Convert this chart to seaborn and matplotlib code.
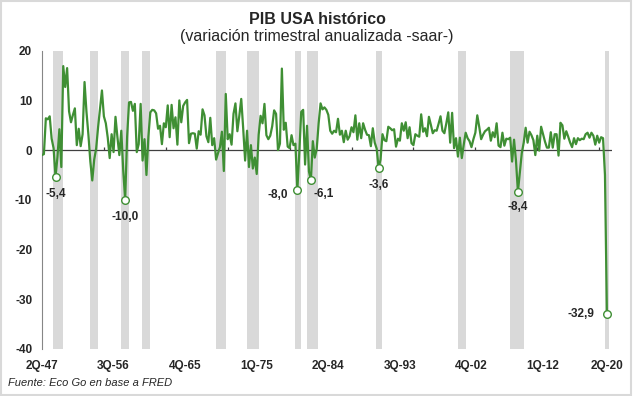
import pandas as pd
import seaborn as sns
import matplotlib.pyplot as plt
from matplotlib.patches import Rectangle

# Quarterly real GDP growth, SAAR (%), 2Q-47 .. 2Q-20
gdp_growth = [
    -1.0, -0.8, 6.4,            # 1947 (Q2-Q4)
    6.2, 6.8, 2.3, 0.4,         # 1948
    -5.4, -1.4, 4.2, -3.4,      # 1949
    16.9, 12.7, 16.5, 7.8,      # 1950
    5.6, 7.1, 8.4, 1.0,         # 1951
    4.3, 0.8, 3.2, 13.7,        # 1952
    7.7, 3.1, -2.3, -6.1,       # 1953
    -1.9, 0.3, 4.6, 8.2,        # 1954
    12.0, 6.8, 5.4, 2.5,        # 1955
    -1.6, 3.2, -0.4, 6.7,       # 1956
    2.6, -1.0, 3.9, -4.1,       # 1957
    -10.0, 2.6, 9.6, 9.7,       # 1958
    7.9, 9.3, -0.4, 1.2,        # 1959
    9.3, -2.1, 2.2, -5.0,       # 1960
    2.7, 7.6, 8.1, 8.0,         # 1961
    7.4, 4.3, 4.9, 1.2,         # 1962
    5.4, 4.6, 9.0, 2.6,         # 1963
    9.1, 4.4, 6.6, 1.1,         # 1964
    10.0, 5.6, 8.9, 9.6,        # 1965
    10.1, 1.4, 3.3, 3.4,        # 1966
    3.3, 0.3, 3.8, 3.1,         # 1967
    8.2, 7.0, 2.8, 1.6,         # 1968
    6.5, 1.0, 2.4, -1.9,        # 1969
    -0.6, 0.6, 3.7, -4.2,       # 1970
    11.3, 2.2, 3.2, 1.1,        # 1971
    7.3, 9.4, 3.8, 6.9,         # 1972
    10.3, 4.4, -2.1, 3.9,       # 1973
    -3.4, 1.0, -3.7, -1.5,      # 1974
    -4.8, 3.1, 6.9, 5.4,        # 1975
    9.3, 3.0, 2.2, 2.9,         # 1976
    4.8, 8.0, 7.3, 0.0,         # 1977
    1.3, 16.4, 4.1, 5.5,        # 1978
    0.7, 0.4, 3.0, 1.0,         # 1979
    1.3, -8.0, -0.5, 7.7,       # 1980
    8.1, -2.9, 4.9, -4.3,       # 1981
    -6.1, 1.8, -1.5, 0.2,       # 1982
    5.4, 9.4, 8.2, 8.6,         # 1983
    8.1, 7.1, 3.9, 3.3,         # 1984
    3.9, 3.6, 6.3, 3.1,         # 1985
    3.9, 1.6, 3.9, 2.1,         # 1986
    2.8, 4.6, 3.6, 7.0,         # 1987
    2.1, 5.4, 2.4, 5.4,         # 1988
    4.1, 3.1, 3.0, 0.8,         # 1989
    4.4, 1.5, 0.3, -3.6,        # 1990
    -1.9, 3.2, 2.0, 1.8,        # 1991
    4.7, 4.4, 4.0, 4.2,         # 1992
    0.7, 2.3, 1.9, 5.4,         # 1993
    3.9, 5.6, 2.4, 4.6,         # 1994
    1.4, 1.0, 3.2, 2.9,         # 1995
    2.7, 7.2, 3.7, 4.4,         # 1996
    2.8, 6.7, 5.1, 3.4,         # 1997
    4.0, 3.9, 5.3, 6.8,         # 1998
    3.9, 3.4, 5.4, 7.6,         # 1999
    1.5, 7.5, 0.4, 2.4,         # 2000
    -1.3, 2.5, -1.6, 1.1,       # 2001
    3.5, 2.4, 1.8, 0.6,         # 2002
    2.2, 3.5, 7.0, 4.7,         # 2003
    2.2, 3.1, 3.8, 4.1,         # 2004
    4.5, 1.9, 3.6, 2.6,         # 2005
    5.4, 0.9, 0.6, 3.5,         # 2006
    0.9, 2.3, 2.2, 2.5,         # 2007
    -2.3, 2.1, -2.1, -8.4,      # 2008
    -4.4, -0.6, 1.5, 4.5,       # 2009
    1.5, 3.7, 3.0, 2.0,         # 2010
    -1.0, 2.9, -0.1, 4.7,       # 2011
    3.2, 1.7, 0.5, 0.5,         # 2012
    3.6, 0.5, 3.2, 3.2,         # 2013
    -1.1, 5.5, 5.0, 2.3,        # 2014
    3.8, 2.7, 1.5, 0.6,         # 2015
    2.4, 1.2, 2.4, 2.0,         # 2016
    2.3, 2.2, 3.2, 3.5,         # 2017
    2.5, 3.5, 2.9, 1.1,         # 2018
    2.9, 1.5, 2.6, 2.4,         # 2019
    -5.0, -32.9,                # 2020 (Q1-Q2)
]

# NBER recessions (first and last quarter)
rec_start = ['4Q-48', '3Q-53', '3Q-57', '2Q-60', '4Q-69', '4Q-73',
             '1Q-80', '3Q-81', '3Q-90', '1Q-01', '4Q-07', '1Q-20']
rec_end = ['4Q-49', '2Q-54', '2Q-58', '1Q-61', '4Q-70', '1Q-75',
           '3Q-80', '4Q-82', '1Q-91', '4Q-01', '2Q-09', '2Q-20']

xtick_labels = ['2Q-47', '3Q-56', '4Q-65', '1Q-75', '2Q-84',
                '3Q-93', '4Q-02', '1Q-12', '2Q-20']

# labelled troughs: quarter, text, offset in points
trough_q = ['1Q-49', '1Q-58', '2Q-80', '1Q-82', '4Q-90', '4Q-08', '2Q-20']
trough_txt = ['-5,4', '-10,0', '-8,0', '-6,1', '-3,6', '-8,4', '-32,9']
trough_off = [(0, -12), (0, -12), (-14, -4), (9, -10), (0, -12), (0, -11), (-19, 0)]

# quarter labels for every point
all_q = [f'{q}Q-{y % 100:02d}' for y in range(1947, 2021) for q in range(1, 5)]
quarters = all_q[1:1 + len(gdp_growth)]
pos = {q: i for i, q in enumerate(quarters)}

df = pd.DataFrame({'t': range(len(gdp_growth)), 'gdp': gdp_growth, 'q': quarters})

rec_idx = []
for a, b in zip(rec_start, rec_end):
    rec_idx += list(range(pos[a], pos[b] + 1))

green = '#3f8f34'

sns.set_style('white')
plt.rcParams['font.family'] = ['Liberation Sans', 'DejaVu Sans']
plt.rcParams['axes.unicode_minus'] = False

fig = plt.figure(figsize=(6.34, 3.96), dpi=100)
ax = fig.add_axes([0.0662, 0.1187, 0.8990, 0.7533])

# recession shading
ax.bar([i - 0.1 for i in rec_idx], 60, bottom=-40, width=1.03, align='edge',
       color='#d9d9d9', linewidth=0, zorder=1)

ax.axhline(0, color='#404040', lw=0.9, zorder=2)
ax.vlines(range(32, len(gdp_growth), 32), 0, 0.7, color='#404040', lw=0.9, zorder=2)

sns.lineplot(data=df, x='t', y='gdp', color=green, linewidth=1.6, ax=ax, zorder=3)

tr = df.set_index('q').loc[trough_q].reset_index()
sns.scatterplot(data=tr, x='t', y='gdp', ax=ax, s=30, color='white',
                edgecolor=green, linewidth=1.0, zorder=4)
for (_, r), txt, off in zip(tr.iterrows(), trough_txt, trough_off):
    ax.annotate(txt, (r['t'], r['gdp']), xytext=off, textcoords='offset points',
                ha='center', va='center', fontsize=8.5, fontweight='bold')

ax.set_xlim(0, 294.6)
ax.set_ylim(-40, 20)
ax.set_yticks(range(-40, 21, 10))
ax.set_xticks([pos[q] for q in xtick_labels])
ax.set_xticklabels(xtick_labels, fontsize=8.5, fontweight='bold')
ax.tick_params(axis='x', length=0, pad=8)
ax.tick_params(axis='y', length=3, width=0.8, color='#868686', pad=4, labelsize=8.5)
for lab in ax.get_yticklabels():
    lab.set_fontweight('bold')
ax.set_xlabel('')
ax.set_ylabel('')
for s in ['top', 'right', 'bottom']:
    ax.spines[s].set_visible(False)
ax.spines['left'].set_color('#868686')
ax.spines['left'].set_linewidth(0.8)

fig.text(0.5, 1 - 19 / 396, 'PIB USA histórico', ha='center', va='center',
         fontsize=11.5, fontweight='bold')
fig.text(0.5, 1 - 37 / 396, '(variación trimestral anualizada -saar-)',
         ha='center', va='center', fontsize=11.5)
fig.text(8 / 634, 1 - 383 / 396, 'Fuente: Eco Go en base a FRED', ha='left',
         va='center', fontsize=8, style='italic')

fig.patches.append(Rectangle((0.002, 0.003), 0.994, 0.994, transform=fig.transFigure,
                             fill=False, edgecolor='#d9d9d9', linewidth=1.5))

fig.savefig('out.png', dpi=100)
